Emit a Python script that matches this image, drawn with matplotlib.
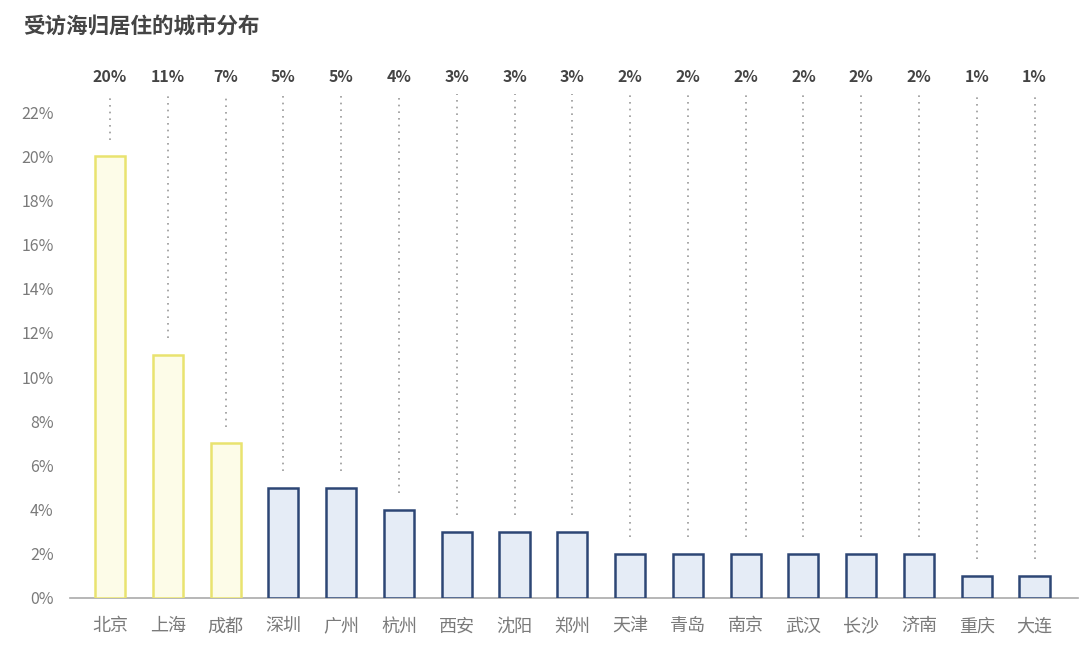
import matplotlib.pyplot as plt

plt.rcParams['font.family'] = ['Noto Sans CJK SC', 'DejaVu Sans']

# city share of returnees (%)
cities = ['北京', '上海', '成都', '深圳', '广州', '杭州', '西安', '沈阳', '郑州',
          '天津', '青岛', '南京', '武汉', '长沙', '济南', '重庆', '大连']
shares = [20, 11, 7, 5, 5, 4, 3, 3, 3, 2, 2, 2, 2, 2, 2, 1, 1]
highlight = 3  # first three bars drawn in yellow

fig = plt.figure(figsize=(10.8, 6.49), dpi=100)
ax = fig.add_axes([0.065, 0.0786, 0.933, 0.7488])

x = list(range(len(cities)))
face = ['#FDFCE8' if i < highlight else '#E5ECF6' for i in x]
edge = ['#E9E36F' if i < highlight else '#2D4675' for i in x]
ax.bar(x, shares, width=0.52, color=face, edgecolor=edge, linewidth=1.8, zorder=3)

for i, v in zip(x, shares):
    ax.vlines(i, v + 0.75, 22.8, colors='#9A9A9A', linestyles=(0, (1, 3)),
              linewidth=1.2, clip_on=False)
    ax.text(i, 23.6, f'{v}%', ha='center', va='center', fontsize=11.5,
            fontweight='bold', color='#444444', clip_on=False)

ax.set_xlim(-0.69, 16.75)
ax.set_ylim(0, 22)
ax.set_yticks(range(0, 23, 2))
ax.set_yticklabels([f'{t}%' for t in range(0, 23, 2)])
ax.set_xticks(x)
ax.set_xticklabels(cities)
ax.tick_params(axis='both', length=0, labelcolor='#7A7A7A')
ax.tick_params(axis='x', pad=14, labelsize=13)
ax.tick_params(axis='y', pad=12, labelsize=11.5)

for s in ['top', 'right', 'left']:
    ax.spines[s].set_visible(False)
ax.spines['bottom'].set_color('#AAAAAA')
ax.spines['bottom'].set_linewidth(1.2)

fig.text(0.021, 0.958, '受访海归居住的城市分布', ha='left', va='center',
         fontsize=15.5, fontweight='bold', color='#444444')

fig.savefig('out.png', dpi=100)
